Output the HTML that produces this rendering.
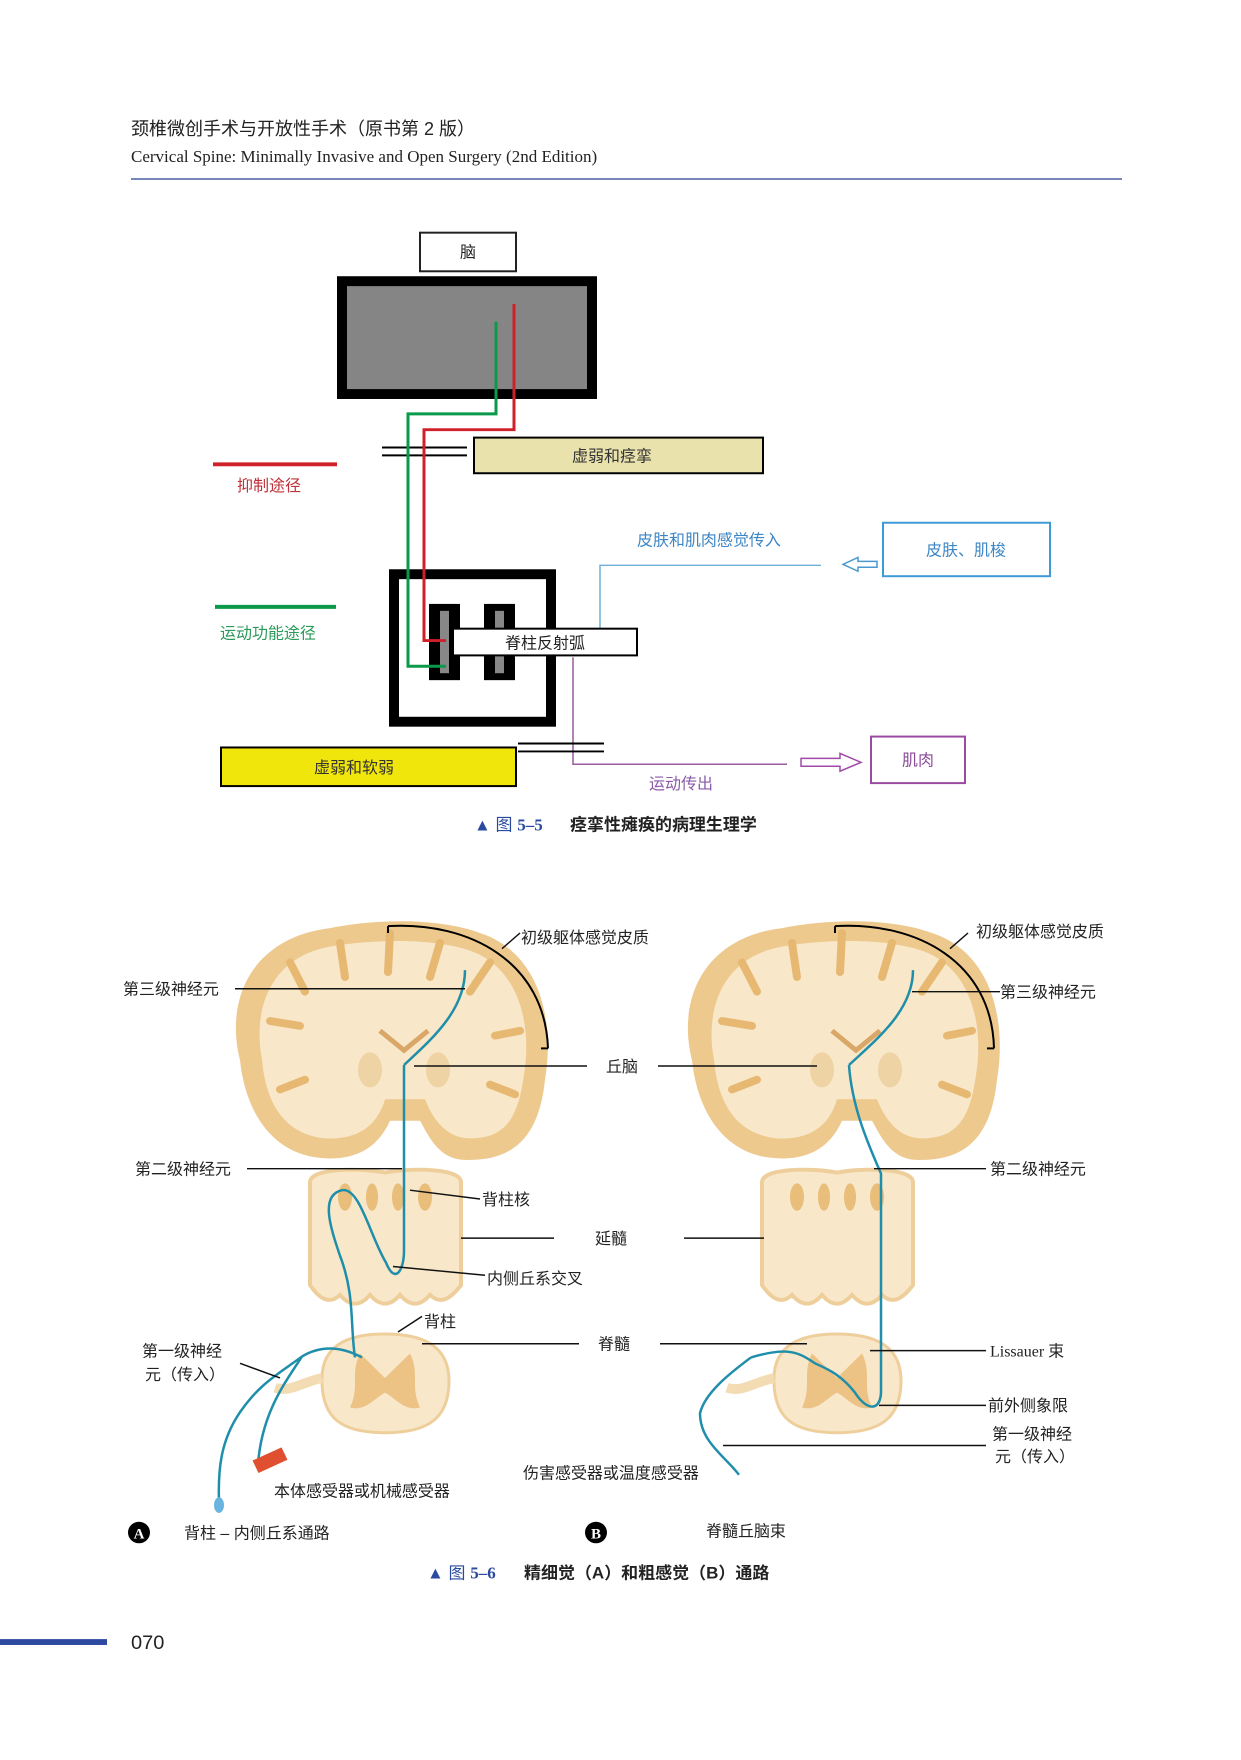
<!DOCTYPE html>
<html><head><meta charset="utf-8"><style>
html,body{margin:0;padding:0;background:#fff}
body{width:1241px;height:1755px;position:relative;overflow:hidden;font-family:"Liberation Sans","Noto Sans CJK SC",sans-serif}
svg text{font-family:"Liberation Sans","Noto Sans CJK SC",sans-serif}
</style></head><body>
<svg width="1241" height="1755" viewBox="0 0 1241 1755" xmlns="http://www.w3.org/2000/svg">
<!-- header -->
<text x="131" y="135" font-size="18" fill="#222">颈椎微创手术与开放性手术（原书第 2 版）</text>
<text x="131" y="162" font-size="17" fill="#222" style="font-family:'Liberation Serif',serif">Cervical Spine: Minimally Invasive and Open Surgery (2nd Edition)</text>
<line x1="131" y1="179" x2="1122" y2="179" stroke="#4a5fa0" stroke-width="1.5"/>

<g transform="translate(0,200) scale(1,0.99) translate(0,-200)">
<!-- Fig 5-5 -->
<rect x="420" y="233" width="96" height="39" fill="#fff" stroke="#222" stroke-width="2"/>
<text x="468" y="258" font-size="16" text-anchor="middle" fill="#222">脑</text>
<rect x="342" y="282" width="250" height="114" fill="#858585" stroke="#000" stroke-width="10"/>
<polyline points="496,323 496,416 408,416 408,671 446,671" fill="none" stroke="#0a9a4a" stroke-width="3"/>
<polyline points="514,305 514,432 424,432 424,645 444,645" fill="none" stroke="#d0202a" stroke-width="3"/>
<line x1="382" y1="450" x2="467" y2="450" stroke="#000" stroke-width="2"/>
<line x1="382" y1="458" x2="467" y2="458" stroke="#000" stroke-width="2"/>
<rect x="474" y="440" width="289" height="36" fill="#e9e2ac" stroke="#000" stroke-width="2"/>
<text x="612" y="464" font-size="16" text-anchor="middle" fill="#333">虚弱和痉挛</text>
<line x1="213" y1="467" x2="337" y2="467" stroke="#d0202a" stroke-width="4"/>
<text x="237" y="494" font-size="16" fill="#c0303a">抑制途径</text>
<line x1="215" y1="611" x2="336" y2="611" stroke="#0a9a4a" stroke-width="4"/>
<text x="220" y="643" font-size="16" fill="#2a9a5a">运动功能途径</text>
<text x="637" y="549" font-size="16" fill="#3d86c6">皮肤和肌肉感觉传入</text>
<polyline points="821,569 600,569 600,633" fill="none" stroke="#6fb0d8" stroke-width="1.5"/>
<path d="M877,565 L858,565 L858,561 L843,568 L858,575 L858,571 L877,571 Z" fill="#fff" stroke="#4a9ad0" stroke-width="1.5"/>
<rect x="883" y="526" width="167" height="54" fill="#fff" stroke="#3d9ad6" stroke-width="2"/>
<text x="966" y="559" font-size="16" text-anchor="middle" fill="#3d86c6">皮肤、肌梭</text>
<rect x="394" y="578" width="157" height="149" fill="#fff" stroke="#000" stroke-width="10"/>
<rect x="429" y="608" width="31" height="77" fill="#000"/>
<rect x="440" y="615" width="9" height="63" fill="#888"/>
<rect x="484" y="608" width="31" height="77" fill="#000"/>
<rect x="495" y="615" width="9" height="63" fill="#888"/>
<polyline points="408,430 408,671 446,671" fill="none" stroke="#0a9a4a" stroke-width="3"/>
<polyline points="424,440 424,645 446,645" fill="none" stroke="#d0202a" stroke-width="3"/>
<rect x="453" y="633" width="184" height="27" fill="#fff" stroke="#000" stroke-width="2"/>
<text x="545" y="653" font-size="16" text-anchor="middle" fill="#222">脊柱反射弧</text>
<polyline points="573,662 573,770 787,770" fill="none" stroke="#9a5aa0" stroke-width="1.5"/>
<line x1="518" y1="749" x2="604" y2="749" stroke="#000" stroke-width="2"/>
<line x1="518" y1="757" x2="604" y2="757" stroke="#000" stroke-width="2"/>
<rect x="221" y="753" width="295" height="39" fill="#f0e60c" stroke="#000" stroke-width="2"/>
<text x="354" y="779" font-size="16" text-anchor="middle" fill="#333">虚弱和软弱</text>
<path d="M801,764 L840,764 L840,759 L861,768 L840,777 L840,772 L801,772 Z" fill="#fff" stroke="#a04aa8" stroke-width="1.5"/>
<rect x="871" y="742" width="94" height="47" fill="#fff" stroke="#9a4aa0" stroke-width="2"/>
<text x="918" y="771" font-size="16" text-anchor="middle" fill="#8a4a98">肌肉</text>
<text x="649" y="795" font-size="16" fill="#8a5aa8">运动传出</text>
<text x="474" y="837" font-size="17" fill="#2a4aa0">▲ 图 <tspan font-weight="bold" style="font-family:'Liberation Serif',serif">5–5</tspan></text>
<text x="570" y="837" font-size="17" fill="#222" font-weight="bold">痉挛性瘫痪的病理生理学</text>
</g>

<!-- Fig 5-6 -->
<defs>
<g id="brain">
<path d="M240 1060 C225 1000 250 935 330 925 C380 915 440 915 480 930 C540 950 555 1020 545 1080 C540 1130 520 1162 470 1162 C440 1164 430 1140 420 1122 L390 1122 C380 1145 360 1164 320 1160 C270 1155 245 1110 240 1060 Z" fill="#edc98e"/>
<path d="M262 1060 C252 1005 272 952 335 943 C380 936 435 936 470 948 C520 966 532 1025 524 1075 C518 1120 505 1140 470 1140 C445 1140 432 1118 425 1100 L385 1100 C378 1125 360 1142 325 1140 C285 1136 266 1105 262 1060 Z" fill="#f8e7c9"/>
<g stroke="#e6b872" stroke-width="8" fill="none" stroke-linecap="round">
<path d="M290 960 L305 990"/><path d="M340 940 L345 975"/><path d="M390 930 L388 970"/><path d="M440 940 L430 975"/><path d="M490 960 L470 990"/><path d="M270 1020 L300 1025"/><path d="M520 1030 L495 1035"/><path d="M280 1090 L305 1080"/><path d="M515 1095 L490 1085"/></g>
<path d="M380 1030 L404 1050 L428 1030" stroke="#d9a868" stroke-width="5" fill="none"/>
<ellipse cx="370" cy="1070" rx="12" ry="18" fill="#eed3a4"/><ellipse cx="438" cy="1070" rx="12" ry="18" fill="#eed3a4"/>
<path d="M310 1185 C310 1170 360 1170 385 1175 C410 1170 461 1170 461 1185 L461 1290 C450 1305 440 1310 430 1300 C420 1312 410 1312 400 1300 C390 1312 380 1312 370 1300 C360 1312 350 1312 340 1300 C330 1310 320 1305 310 1290 Z" fill="#f8e7c9" stroke="#eecf9c" stroke-width="4"/>
<ellipse cx="345" cy="1200" rx="7" ry="14" fill="#e9bd7a"/><ellipse cx="372" cy="1200" rx="6" ry="14" fill="#e9bd7a"/><ellipse cx="398" cy="1200" rx="6" ry="14" fill="#e9bd7a"/><ellipse cx="425" cy="1200" rx="7" ry="14" fill="#e9bd7a"/>
<path d="M322 1390 C320 1350 350 1340 385 1340 C420 1340 450 1350 449 1390 C448 1425 430 1441 385 1441 C340 1441 323 1425 322 1390 Z" fill="#f8e7c9" stroke="#eecf9c" stroke-width="3"/>
<path d="M360 1360 C375 1375 380 1380 385 1385 C390 1380 395 1375 410 1360 C420 1380 410 1395 420 1415 C405 1420 395 1405 385 1400 C375 1405 365 1420 350 1415 C360 1395 350 1380 360 1360 Z" fill="#ecc285"/>
<path d="M322 1385 C300 1390 290 1400 275 1395" stroke="#f3dcb3" stroke-width="10" fill="none"/>
</g>
</defs>
<g transform="translate(0,1066) scale(1,0.978) translate(0,-1066)">
<use href="#brain"/>
<use href="#brain" transform="translate(452,0)"/>
<path d="M388 923 C470 918 545 960 548 1048" stroke="#000" stroke-width="2" fill="none"/><line x1="388" y1="923" x2="388" y2="930" stroke="#000" stroke-width="2"/><line x1="548" y1="1048" x2="541" y2="1048" stroke="#000" stroke-width="2"/>
<path d="M835 923 C917 918 992 960 994 1048" stroke="#000" stroke-width="2" fill="none"/><line x1="835" y1="923" x2="835" y2="930" stroke="#000" stroke-width="2"/><line x1="994" y1="1048" x2="987" y2="1048" stroke="#000" stroke-width="2"/>
<g stroke="#1f8eab" stroke-width="2.5" fill="none">
<path d="M404 1065 C430 1040 465 1010 465 968"/>
<path d="M404 1065 L404 1255 C404 1275 395 1290 386 1267 C370 1240 360 1190 342 1193 C320 1198 330 1230 340 1260 C355 1300 350 1330 355 1364"/>
<path d="M302 1363 C320 1352 340 1352 362 1364"/>
<path d="M302 1363 C280 1380 260 1390 240 1420 C220 1450 218 1480 219 1512"/>
<path d="M302 1363 C285 1390 262 1420 258 1473"/>
</g>
<ellipse cx="219" cy="1515" rx="5" ry="8" fill="#6ab4e0"/>
<rect x="254" y="1462" width="32" height="14" fill="#e05030" transform="rotate(-25 270 1469)"/>
<g stroke="#1f8eab" stroke-width="2.5" fill="none">
<path d="M849 1065 C875 1040 913 1010 913 968"/>
<path d="M849 1065 C852 1110 870 1150 881 1176 L881 1400 C880 1420 866 1418 855 1400 C840 1380 825 1375 815 1370 C800 1360 790 1352 751 1364"/>
<path d="M751 1364 C730 1380 705 1400 700 1421 C700 1450 725 1465 739 1484"/>
</g>
<g stroke="#111" stroke-width="1.5">
<line x1="235" y1="987" x2="465" y2="987"/><line x1="414" y1="1066" x2="587" y2="1066"/><line x1="658" y1="1066" x2="817" y2="1066"/>
<line x1="247" y1="1171" x2="402" y2="1171"/><line x1="410" y1="1193" x2="480" y2="1202"/>
<line x1="461" y1="1242" x2="554" y2="1242"/><line x1="684" y1="1242" x2="764" y2="1242"/>
<line x1="393" y1="1271" x2="485" y2="1280"/><line x1="398" y1="1338" x2="422" y2="1322"/>
<line x1="422" y1="1350" x2="579" y2="1350"/><line x1="660" y1="1350" x2="807" y2="1350"/>
<line x1="240" y1="1370" x2="280" y2="1385"/><line x1="502" y1="946" x2="520" y2="930"/>
<line x1="912" y1="990" x2="1000" y2="990"/><line x1="874" y1="1171" x2="986" y2="1171"/>
<line x1="870" y1="1357" x2="986" y2="1357"/><line x1="879" y1="1413" x2="986" y2="1413"/>
<line x1="723" y1="1454" x2="986" y2="1454"/><line x1="950" y1="946" x2="968" y2="930"/>
</g>
<g font-size="16" fill="#222">
<text x="521" y="940">初级躯体感觉皮质</text>
<text x="123" y="993">第三级神经元</text>
<text x="606" y="1072">丘脑</text>
<text x="135" y="1177">第二级神经元</text>
<text x="482" y="1208">背柱核</text>
<text x="595" y="1248">延髓</text>
<text x="487" y="1289">内侧丘系交叉</text>
<text x="424" y="1333">背柱</text>
<text x="598" y="1356">脊髓</text>
<text x="142" y="1363">第一级神经</text>
<text x="145" y="1387">元（传入）</text>
<text x="274" y="1506">本体感受器或机械感受器</text>
<text x="976" y="934">初级躯体感觉皮质</text>
<text x="1000" y="996">第三级神经元</text>
<text x="990" y="1177">第二级神经元</text>
<text x="990" y="1363" style="font-family:'Liberation Serif','Noto Sans CJK SC',serif">Lissauer 束</text>
<text x="988" y="1419">前外侧象限</text>
<text x="992" y="1448">第一级神经</text>
<text x="995" y="1471">元（传入）</text>
<text x="523" y="1488">伤害感受器或温度感受器</text>
<text x="184" y="1549">背柱 – 内侧丘系通路</text>
<text x="706" y="1547">脊髓丘脑束</text>
</g>
<circle cx="139" cy="1543" r="11" fill="#000"/><text x="139" y="1549" font-size="15" font-weight="bold" fill="#fff" text-anchor="middle" style="font-family:'Liberation Serif',serif">A</text>
<circle cx="596" cy="1543" r="11" fill="#000"/><text x="596" y="1549" font-size="15" font-weight="bold" fill="#fff" text-anchor="middle" style="font-family:'Liberation Serif',serif">B</text>
<text x="427" y="1590" font-size="17" fill="#2a4aa0">▲ 图 <tspan font-weight="bold" style="font-family:'Liberation Serif',serif">5–6</tspan></text>
<text x="524" y="1590" font-size="17" fill="#222" font-weight="bold">精细觉（A）和粗感觉（B）通路</text>
<rect x="0" y="1652" width="107" height="6" fill="#2d4aa0"/>
<text x="131" y="1662" font-size="20" fill="#222">070</text>
</g>
</svg>
</body></html>
